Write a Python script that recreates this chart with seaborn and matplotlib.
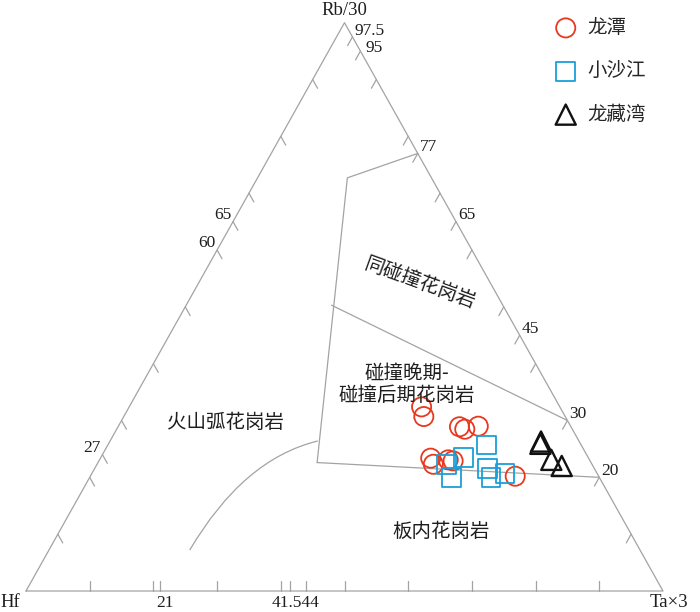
import numpy as np
import pandas as pd
import matplotlib
matplotlib.use("Agg")
import matplotlib.pyplot as plt
from matplotlib.path import Path
from matplotlib.patches import PathPatch
import seaborn as sns

# Hf - Rb/30 - Ta*3 ternary, values in percent
longtan_hf = [21.7, 22.2, 17.5, 16.9, 14.5, 24.8, 24.9, 22.2, 21.5, 13.1]
longtan_rb = [32.4, 30.7, 28.9, 28.5, 29.0, 23.4, 22.3, 23.1, 22.9, 20.2]
longtan_ta = [45.9, 47.1, 53.6, 54.7, 56.5, 51.9, 52.8, 54.8, 55.6, 66.7]

xsj_hf = [14.8, 19.5, 22.9, 23.2, 16.8, 17.0, 14.5]
xsj_rb = [25.7, 23.5, 22.2, 20.0, 21.6, 20.0, 20.6]
xsj_ta = [59.5, 57.0, 54.9, 56.8, 61.6, 63.0, 64.9]

lcw_hf = [6.0, 6.3, 6.0, 4.9]
lcw_rb = [26.3, 25.9, 23.1, 22.0]
lcw_ta = [67.7, 67.8, 71.0, 73.1]

# field boundaries (Rb, Ta), Hf is the rest
syn_col_rb = [77, 72.7, 22.6]
syn_col_ta = [23, 14.1, 34.4]
post_col_rb = [50.3, 30]
post_col_ta = [22.8, 70]
wpg_rb = [22.6, 20]
wpg_ta = [34.4, 80]
# VAG / WPG curve: start, control, end
vag_rb = [7.2, 23.2, 26.4]
vag_ta = [22.1, 22.5, 32.6]

# ticks
right_ticks = [97.5, 95, 90, 80, 77, 70, 65, 60, 50, 45, 40, 30, 20, 10]
right_labels = {97.5: "97.5", 95: "95", 77: "77", 65: "65", 45: "45", 30: "30", 20: "20"}
left_ticks = [90, 80, 70, 65, 60, 50, 40, 30, 24, 20, 10]
left_labels = {65: "65", 60: "60", 24: "27"}
bottom_ticks = [10, 20, 21, 30, 40, 41.5, 44, 50, 60, 70, 80, 90]
bottom_labels = {21: "21", 41.5: "41.544"}


def tern_xy(hf, rb, ta):
    hf, rb, ta = np.asarray(hf, float), np.asarray(rb, float), np.asarray(ta, float)
    tot = hf + rb + ta
    rb, ta = rb / tot, ta / tot
    return ta + rb / 2, rb


def line_xy(rb, ta):
    rb, ta = np.asarray(rb, float), np.asarray(ta, float)
    return tern_xy(100 - rb - ta, rb, ta)


sns.set_theme(style="white")
plt.rcParams['font.family'] = ['Noto Sans CJK SC', 'DejaVu Sans']
num_font = ['Liberation Serif', 'DejaVu Sans']
txt_col = '#1e1e1e'

fig = plt.figure(figsize=(7, 6.12), dpi=100)
ax = fig.add_axes([0, 0, 1, 1])
ax.set_xlim(-26 / 637, 674 / 637)
ax.set_ylim(-21 / 568.3, 591 / 568.3)
ax.axis('off')

gray = '#a3a3a3'
lw = 0.9

# frame
fx, fy = tern_xy([100, 0, 0, 100], [0, 100, 0, 0], [0, 0, 100, 0])
ax.plot(fx, fy, color=gray, lw=lw)

# straight boundaries
for rb, ta in [(syn_col_rb, syn_col_ta), (post_col_rb, post_col_ta), (wpg_rb, wpg_ta)]:
    x, y = line_xy(rb, ta)
    ax.plot(x, y, color=gray, lw=lw)

# curved boundary
cx, cy = line_xy(vag_rb, vag_ta)
curve = Path(np.column_stack([cx, cy]), [Path.MOVETO, Path.CURVE3, Path.CURVE3])
ax.add_patch(PathPatch(curve, facecolor='none', edgecolor=gray, lw=lw))

# ticks
tl = 0.01535
for v in right_ticks:
    x, y = line_xy([v], [100 - v])
    ax.plot([x[0], x[0] - tl * 0.5], [y[0], y[0] - tl], color=gray, lw=lw)
    if v in right_labels:
        off = (3.5, 2.0) if v == 95 else (1.5, 4.5)
        ax.annotate(right_labels[v], (x[0], y[0]), xytext=off,
                    textcoords='offset points', ha='left', va='center',
                    fontsize=12.5, family=num_font, color=txt_col)
for v in left_ticks:
    x, y = line_xy([v], [0])
    ax.plot([x[0], x[0] + tl * 0.5], [y[0], y[0] - tl], color=gray, lw=lw)
    if v in left_labels:
        ax.annotate(left_labels[v], (x[0], y[0]), xytext=(-1, 5),
                    textcoords='offset points', ha='right', va='center',
                    fontsize=12.5, family=num_font, color=txt_col)
for v in bottom_ticks:
    x, y = line_xy([0], [v])
    ax.plot([x[0], x[0]], [0, 10 / 568.3], color=gray, lw=lw)
    if v in bottom_labels:
        ax.annotate(bottom_labels[v], (x[0], y[0]), xytext=(3.5, -8.6),
                    textcoords='offset points', ha='center', va='center',
                    fontsize=12.5, family=num_font, color=txt_col)

# apex labels
ax.annotate('Rb/30', (0.5, 1), xytext=(0, 9), textcoords='offset points',
            ha='center', va='center', fontsize=13.5, family=num_font, color=txt_col)
ax.annotate('Hf', (0, 0), xytext=(-4.3, -8.6), textcoords='offset points',
            ha='right', va='center', fontsize=13.5, family=num_font, color=txt_col)
ax.annotate('Ta×3', (1, 0), xytext=(-9.4, -8.6), textcoords='offset points',
            ha='left', va='center', fontsize=13.5, family=num_font, color=txt_col)


# field names
def fig_text(px, py, s, **kw):
    fig.text(px / 700, 1 - py / 612, s, ha='center', va='center', fontsize=14,
             color=txt_col, **kw)


fig_text(420, 283, '同碰撞花岗岩', rotation=-20, rotation_mode='anchor')
fig_text(407, 385, '碰撞晚期-\n碰撞后期花岗岩', linespacing=1.05, multialignment='center')
fig_text(225, 423, '火山弧花岗岩')
fig_text(441, 531, '板内花岗岩')

# samples
groups = [
    ('龙潭', longtan_hf, longtan_rb, longtan_ta, 'o', '#e8381e', 1.3, 190),
    ('小沙江', xsj_hf, xsj_rb, xsj_ta, 's', '#1a9fd9', 1.3, 185),
    ('龙藏湾', lcw_hf, lcw_rb, lcw_ta, '^', '#111111', 1.7, 210),
]
for name, hf, rb, ta, mk, col, mlw, size in groups:
    x, y = tern_xy(hf, rb, ta)
    df = pd.DataFrame({'x': x, 'y': y})
    sns.scatterplot(data=df, x='x', y='y', ax=ax, marker=mk, s=size,
                    facecolor='none', edgecolor=col, linewidth=mlw,
                    label=name, zorder=5)

ax.legend(loc='upper left', bbox_to_anchor=(556 / 700, 1 - 17 / 612),
          bbox_transform=fig.transFigure, frameon=False, fontsize=14,
          borderpad=0, borderaxespad=0, handlelength=1.0, handletextpad=0.6,
          labelspacing=1.15, scatterpoints=1)

fig.savefig('out.png', dpi=100)
